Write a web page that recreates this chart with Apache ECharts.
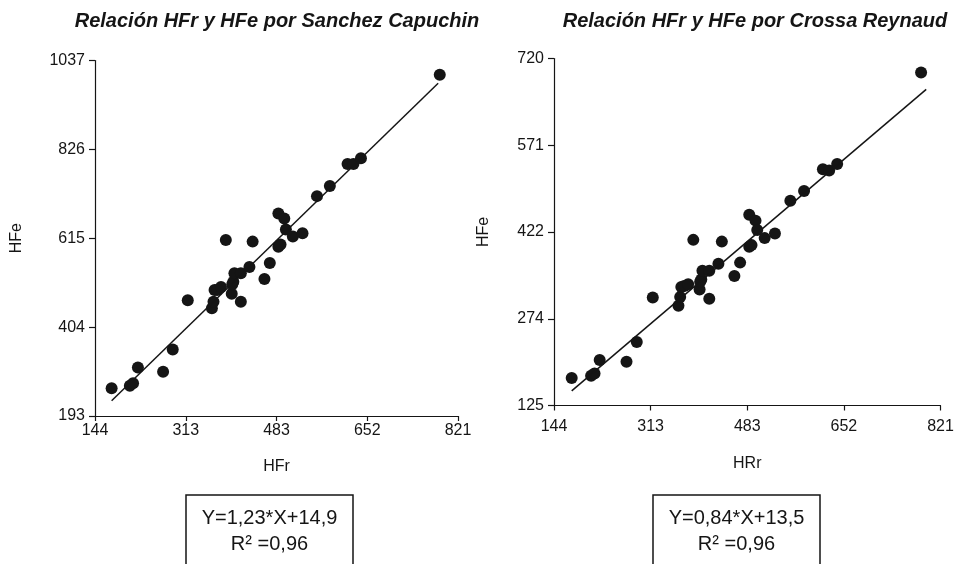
<!DOCTYPE html>
<html>
<head>
<meta charset="utf-8">
<script src="https://cdn.jsdelivr.net/npm/echarts@6/dist/echarts.min.js"></script>
<style>
  html, body { margin: 0; padding: 0; background: #ffffff; }
  #chart { width: 959px; height: 564px; }
</style>
</head>
<body>
<div id="chart"></div>
<script>
// ---- data ----
const titleSanchez = 'Relación HFr y HFe por Sanchez Capuchin';
const titleCrossa = 'Relación HFr y HFe por Crossa Reynaud';
const hfr = [175, 209, 215, 224, 271, 289, 317, 362, 365, 367, 372, 379, 388, 399, 402, 400, 404, 416, 416, 432, 438, 460, 470, 486, 490, 486, 497, 500, 513, 531, 558, 582, 615, 626, 640, 787];
const hfeSanchez = [259, 265, 271, 308, 298, 351, 468, 449, 464, 492, 492, 499, 611, 483, 512, 506, 532, 532, 464, 547, 607, 518, 556, 595, 600, 674, 662, 636, 619, 627, 715, 739, 791, 791, 805, 1003];
const hfeCrossa = [172, 176, 180, 203, 200, 234, 310, 296, 311, 328, 330, 333, 409, 324, 341, 337, 356, 356, 308, 368, 406, 347, 370, 397, 400, 452, 442, 426, 412, 420, 476, 493, 530, 528, 539, 696];
const fitSanchez = [[175, 229], [784, 983]];
const fitCrossa = [[175, 150], [796, 667]];
const xTicks = ['144', '313', '483', '652', '821'];
const yTicksSanchez = ['193', '404', '615', '826', '1037'];
const yTicksCrossa = ['125', '274', '422', '571', '720'];
const eqSanchez = ['Y=1,23*X+14,9', 'R² =0,96'];
const eqCrossa = ['Y=0,84*X+13,5', 'R² =0,96'];

// ---- build ----
const FONT = '"Liberation Sans", Arial, Helvetica, sans-serif';
const INK = '#151515';

function axisInfo(ticks) {
  const min = Number(ticks[0]);
  const max = Number(ticks[ticks.length - 1]);
  const interval = (max - min) / (ticks.length - 1);
  return { min, max, interval, span: max - min };
}
const xi = axisInfo(xTicks);
const ySi = axisInfo(yTicksSanchez);
const yCi = axisInfo(yTicksCrossa);

function makeX(gridIndex, name, nameGap, labelMargin) {
  return {
    gridIndex, type: 'value', min: 0, max: xi.span, interval: xi.interval,
    name, nameLocation: 'middle', nameGap,
    nameTextStyle: { fontFamily: FONT, fontSize: 16, color: INK },
    axisLine: { show: true, onZero: false, lineStyle: { color: INK, width: 1.2 } },
    axisTick: { show: true, length: 5, lineStyle: { color: INK, width: 1.2 } },
    axisLabel: { margin: labelMargin, fontFamily: FONT, fontSize: 16, color: INK,
      formatter: v => xTicks[Math.round(v / xi.interval)] },
    splitLine: { show: false }
  };
}
function makeY(gridIndex, info, ticks, name, nameGap) {
  return {
    gridIndex, type: 'value', min: 0, max: info.span, interval: info.interval,
    name, nameLocation: 'middle', nameGap, nameRotate: 90,
    nameTextStyle: { fontFamily: FONT, fontSize: 16, color: INK },
    axisLine: { show: true, onZero: false, lineStyle: { color: INK, width: 1.2 } },
    axisTick: { show: true, length: 6, lineStyle: { color: INK, width: 1.2 } },
    axisLabel: { margin: 10, fontFamily: FONT, fontSize: 16, color: INK,
      formatter: v => ticks[Math.round(v / info.interval)] },
    splitLine: { show: false }
  };
}

const ptsS = hfr.map((x, i) => [x - xi.min, hfeSanchez[i] - ySi.min]);
const ptsC = hfr.map((x, i) => [x - xi.min, hfeCrossa[i] - yCi.min]);
const lineS = fitSanchez.map(p => [p[0] - xi.min, p[1] - ySi.min]);
const lineC = fitCrossa.map(p => [p[0] - xi.min, p[1] - yCi.min]);

function eqBox(cx, lines) {
  return [
    { type: 'rect', shape: { x: cx - 83.5, y: 495, width: 167, height: 90 },
      style: { fill: '#fff', stroke: INK, lineWidth: 1.5 }, z: 10 },
    { type: 'text', x: cx, y: 518, z: 11,
      style: { text: lines[0], font: '20px ' + FONT, fill: INK, textAlign: 'center', textVerticalAlign: 'middle' } },
    { type: 'text', x: cx, y: 544, z: 11,
      style: { text: lines[1], font: '20px ' + FONT, fill: INK, textAlign: 'center', textVerticalAlign: 'middle' } }
  ];
}

const option = {
  backgroundColor: '#ffffff',
  animation: false,
  title: [
    { text: titleSanchez, left: 272, top: 6, textAlign: 'center',
      textStyle: { fontFamily: FONT, fontSize: 20, fontWeight: 'bold', fontStyle: 'italic', color: INK } },
    { text: titleCrossa, left: 750, top: 6, textAlign: 'center',
      textStyle: { fontFamily: FONT, fontSize: 20, fontWeight: 'bold', fontStyle: 'italic', color: INK } }
  ],
  grid: [
    { left: 95, top: 60.5, width: 363, height: 355.5, containLabel: false },
    { left: 554, top: 58.5, width: 386.5, height: 347, containLabel: false }
  ],
  xAxis: [ makeX(0, 'HFr', 43, 7), makeX(1, 'HRr', 50, 13) ],
  yAxis: [ makeY(0, ySi, yTicksSanchez, 'HFe', 70), makeY(1, yCi, yTicksCrossa, 'HFe', 62) ],
  series: [
    { type: 'scatter', xAxisIndex: 0, yAxisIndex: 0, data: ptsS, symbolSize: 12,
      itemStyle: { color: INK, opacity: 1 } },
    { type: 'line', xAxisIndex: 0, yAxisIndex: 0, data: lineS, showSymbol: false, symbol: 'none',
      lineStyle: { color: INK, width: 1.5 } },
    { type: 'scatter', xAxisIndex: 1, yAxisIndex: 1, data: ptsC, symbolSize: 12,
      itemStyle: { color: INK, opacity: 1 } },
    { type: 'line', xAxisIndex: 1, yAxisIndex: 1, data: lineC, showSymbol: false, symbol: 'none',
      lineStyle: { color: INK, width: 1.5 } }
  ],
  graphic: [ ...eqBox(269.5, eqSanchez), ...eqBox(736.5, eqCrossa) ]
};

const chart = echarts.init(document.getElementById('chart'), null, { renderer: 'canvas' });
chart.setOption(option);
</script>
</body>
</html>
